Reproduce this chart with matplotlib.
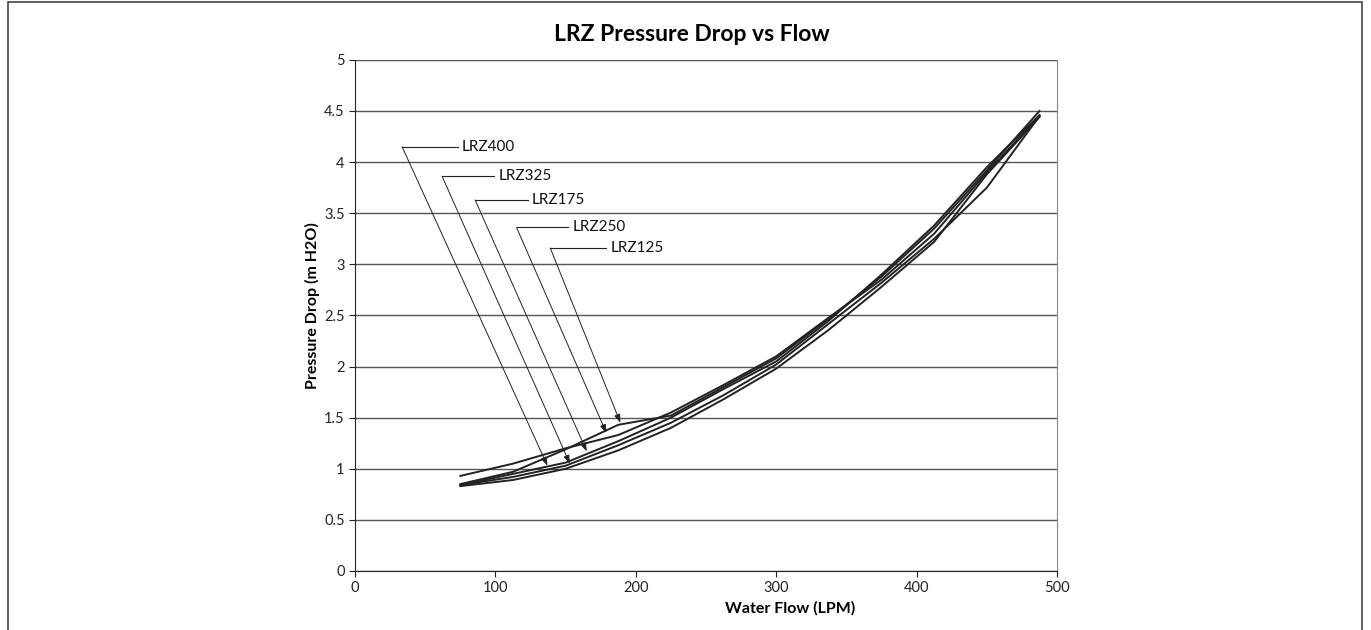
import matplotlib

matplotlib.use("Agg")
import matplotlib.pyplot as plt
from matplotlib.patches import Rectangle

plt.rcParams["font.family"] = ["Lato", "DejaVu Sans"]

# flow points (LPM)
flow = [75, 112.5, 150, 187.5, 225, 262.5, 300, 337.5, 375, 412.5, 450, 487.5]

# pressure drop (m H2O) per model
lrz125 = [0.85, 0.97, 1.19, 1.43, 1.52, 1.80, 2.08, 2.47, 2.88, 3.35, 3.92, 4.50]
lrz250 = [0.93, 1.05, 1.20, 1.33, 1.55, 1.82, 2.10, 2.48, 2.85, 3.30, 3.90, 4.45]
lrz175 = [0.84, 0.95, 1.06, 1.27, 1.50, 1.78, 2.05, 2.45, 2.90, 3.38, 3.95, 4.46]
lrz325 = [0.84, 0.92, 1.03, 1.23, 1.45, 1.72, 2.02, 2.42, 2.82, 3.25, 3.75, 4.45]
lrz400 = [0.83, 0.89, 1.00, 1.18, 1.40, 1.68, 1.98, 2.36, 2.78, 3.22, 3.88, 4.44]

series = {"LRZ125": lrz125, "LRZ250": lrz250, "LRZ175": lrz175, "LRZ325": lrz325, "LRZ400": lrz400}

# callout labels: leader start x, y, label x, arrow tip x, tip y
labels = ["LRZ400", "LRZ325", "LRZ175", "LRZ250", "LRZ125"]
label_start_x = [33.5, 62, 85.5, 115, 139]
label_y = [4.15, 3.86, 3.63, 3.36, 3.16]
label_text_x = [76, 102, 126, 155, 182]
tip_x = [137, 153, 165, 179, 189]
tip_y = [1.03, 1.05, 1.17, 1.35, 1.45]


def main() -> None:
    fig = plt.figure(figsize=(13.71, 6.3), dpi=100)
    ax = fig.add_axes([0.259, 0.0937, 0.512, 0.8113])

    fig.patches.append(
        Rectangle((0.006, -0.1), 0.9875, 1.097, transform=fig.transFigure, fill=False, edgecolor="#444444", lw=1.2)
    )

    for name, vals in series.items():
        ax.plot(flow, vals, color="#222222", lw=1.4)

    for name, sx, y, tx, px, py in zip(labels, label_start_x, label_y, label_text_x, tip_x, tip_y):
        ax.plot([sx, tx - 3], [y, y], color="#222222", lw=0.8)
        ax.annotate(
            "",
            xy=(px, py),
            xytext=(sx, y),
            arrowprops=dict(arrowstyle="-|>,head_length=0.5,head_width=0.18", color="#222222", lw=0.7,
                            shrinkA=0, shrinkB=0),
        )
        ax.text(tx, y, name, fontsize=11, va="center", ha="left", color="#111111")

    ax.set_xlim(0, 500)
    ax.set_ylim(0, 5)
    ax.set_xticks(range(0, 501, 100))
    ax.set_yticks([i * 0.5 for i in range(11)])
    ax.set_yticklabels(["0", "0.5", "1", "1.5", "2", "2.5", "3", "3.5", "4", "4.5", "5"])
    ax.yaxis.grid(True, color="#555555", lw=1)
    ax.set_axisbelow(True)
    ax.tick_params(labelsize=10.5, length=4, width=0.8, colors="#222222")
    ax.spines["top"].set_visible(False)
    ax.spines["right"].set_color("#888888")
    ax.spines["left"].set_color("#222222")
    ax.spines["bottom"].set_color("#222222")

    ax.set_xlabel("Water Flow (LPM)", fontsize=11.5, fontweight="bold", labelpad=4, x=0.62)
    ax.set_ylabel("Pressure Drop (m H2O)", fontsize=11.5, fontweight="bold", labelpad=3, y=0.52)
    fig.text(0.505, 0.945, "LRZ Pressure Drop vs Flow", ha="center", va="center", fontsize=16.5, fontweight="bold")

    fig.savefig("out.png", dpi=100)
    plt.close(fig)


if __name__ == "__main__":
    main()
